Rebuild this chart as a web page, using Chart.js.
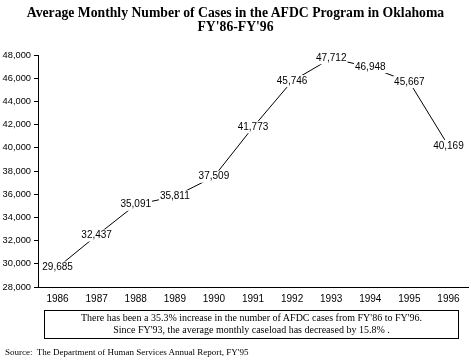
<!DOCTYPE html>
<html>
<head>
<meta charset="utf-8">
<script src="https://cdn.jsdelivr.net/npm/chart.js@4"></script>
<style>
  html, body { margin: 0; padding: 0; background: #fff; }
  #wrap { position: relative; width: 471px; height: 361px; overflow: hidden; }
  #c { position: absolute; left: 0; top: 0; }
  .title { position: absolute; left: 0; width: 471px; text-align: center; font: bold 13.7px "Liberation Serif", serif; color: #000; line-height: 14px; }
  #note { position: absolute; left: 44px; top: 310px; width: 413px; height: 26px; border: 1px solid #000; box-sizing: content-box;
          font: 10px "Liberation Serif", serif; text-align: center; line-height: 12px; padding-top: 1px; color: #000; }
  #src { position: absolute; left: 5px; top: 347px; font: 9px "Liberation Serif", serif; color: #000; white-space: pre; }
</style>
</head>
<body>
<div id="wrap">
  <canvas id="c" width="471" height="361"></canvas>
  <div class="title" style="top:6px">Average Monthly Number of Cases in the AFDC Program in Oklahoma</div>
  <div class="title" style="top:20px">FY'86-FY'96</div>
  <div id="note">There has been a 35.3% increase in the number of AFDC cases from FY'86 to FY'96.<br>Since FY'93, the average monthly caseload has decreased by 15.8% .</div>
  <div id="src">Source:  The Department of Human Services Annual Report, FY'95</div>
</div>
<script>
const years = ['1986','1987','1988','1989','1990','1991','1992','1993','1994','1995','1996'];
const cases = [29685, 32437, 35091, 35811, 37509, 41773, 45746, 47712, 46948, 45667, 40169];
const yMin = 28000, yMax = 48000, yStep = 2000;

const labelPlugin = {
  id: 'valueLabels',
  afterDatasetsDraw(chart) {
    const ctx = chart.ctx;
    const meta = chart.getDatasetMeta(0);
    ctx.save();
    ctx.font = '10px "Liberation Sans", Arial, sans-serif';
    ctx.textAlign = 'center';
    ctx.textBaseline = 'middle';
    meta.data.forEach((pt, i) => {
      const txt = cases[i].toLocaleString('en-US');
      const w = ctx.measureText(txt).width + 2;
      ctx.fillStyle = '#fff';
      ctx.fillRect(pt.x - w / 2, pt.y - 6, w, 12);
      ctx.fillStyle = '#000';
      ctx.fillText(txt, pt.x, pt.y);
    });
    ctx.restore();
  }
};

new Chart(document.getElementById('c'), {
  type: 'line',
  data: {
    labels: years,
    datasets: [{
      data: cases,
      borderColor: '#000',
      borderWidth: 1,
      pointRadius: 0,
      tension: 0,
      fill: false
    }]
  },
  options: {
    responsive: false,
    animation: false,
    devicePixelRatio: 1,
    layout: { padding: { top: 55, right: 3, left: 0, bottom: 0 } },
    plugins: { legend: { display: false }, title: { display: false }, tooltip: { enabled: false } },
    scales: {
      x: {
        offset: true,
        grid: { display: false, drawTicks: false },
        border: { display: true, color: '#000', width: 1 },
        ticks: { color: '#000', padding: 6, maxRotation: 0, font: { family: '"Liberation Sans", Arial, sans-serif', size: 10 } },
        afterFit(s) { s.height = 74; }
      },
      y: {
        min: yMin, max: yMax,
        grid: { drawOnChartArea: false, drawTicks: true, tickLength: 4, color: '#000' },
        border: { display: true, color: '#000', width: 1 },
        ticks: {
          stepSize: yStep, color: '#000', padding: 3,
          font: { family: '"Liberation Sans", Arial, sans-serif', size: 9.3 },
          callback: v => v.toLocaleString('en-US')
        },
        afterFit(s) { s.width = 38; }
      }
    }
  },
  plugins: [labelPlugin]
});
</script>
</body>
</html>
